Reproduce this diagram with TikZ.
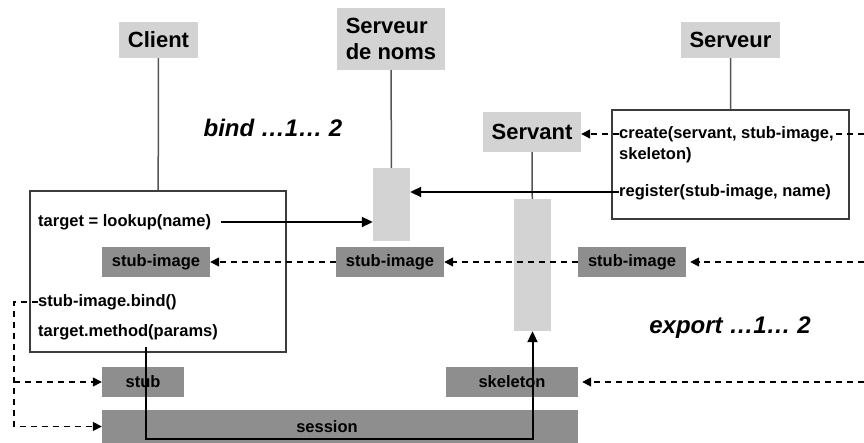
\documentclass[tikz,border=0pt]{standalone}
\usepackage{fontspec}
\setmainfont{Liberation Sans}
\usepackage{tikz}
\usepackage{xcolor}
\usetikzlibrary{arrows.meta, calc, positioning}

\definecolor{hdrgray}{RGB}{211,211,211}
\definecolor{partgray}{RGB}{142,142,142}
\definecolor{framegray}{RGB}{60,60,60}
\definecolor{lifegray}{RGB}{85,85,85}

\begin{document}
\begin{tikzpicture}[x=1pt, y=-1pt,
    every node/.style={font=\fontsize{16.5}{21}\selectfont\bfseries},
    header/.style={fill=hdrgray, inner sep=0pt, font=\fontsize{22}{26}\selectfont\bfseries},
    bar/.style={fill=hdrgray, inner sep=0pt},
    part/.style={fill=partgray, inner sep=0pt, minimum height=30pt},
    frame/.style={draw=framegray, line width=1.4pt, fill=white, inner sep=0pt},
    call/.style={anchor=west, inner sep=0pt},
    tag/.style={font=\fontsize{24}{28}\selectfont\bfseries\itshape},
    life/.style={draw=lifegray, line width=1.5pt},
    msg/.style={line width=2pt, -{Triangle[length=11pt,width=10pt]}},
    async/.style={line width=1.5pt, dash pattern=on 6pt off 5pt, -{Triangle[length=9pt,width=9pt]}}]
                        \useasboundingbox (0,0) rectangle (864,443);

                        % acteurs
                        \node[header, minimum width=79pt, minimum height=36pt] (client) at (158.5,40) {Client};
                        \node[header, minimum width=108pt, minimum height=62pt, align=left] (ns) at (391,39) {Serveur\\de noms};
                        \node[header, minimum width=99pt, minimum height=36pt] (serveur) at (730.5,40) {Serveur};
                        \node[header, minimum width=98pt, minimum height=40pt] (servant) at (532,132) {Servant};

                        \node[frame, minimum width=256pt, minimum height=161pt] (clientbox) at (158,271.5) {};
                        \node[frame, minimum width=237pt, minimum height=109pt] (serverbox) at (730.5,164.5) {};
                        \node[bar, minimum width=37pt, minimum height=73pt] (nsbar) at (391.5,204.5) {};
                        \node[bar, minimum width=37pt, minimum height=132pt] (servbar) at (532.5,265) {};

                        % appels
                        \node[call] (lookup) at (38,222) {target = lookup(name)};
                        \node[call] (bind) at (38,302) {stub-image.bind()};
                        \node[call] (method) at (38,332) {target.method(params)};
                        \node[call] (create1) at (619,134) {create(servant, stub-image,};
                        \node[call] (create2) at (619,155) {skeleton)};
                        \node[call] (register) at (619,192) {register(stub-image, name)};

                        % objets
                        \node[part, minimum width=108pt] (climg) at (156,262) {stub-image};
                        \node[part, minimum width=108pt] (nsimg) at (390,262) {stub-image};
                        \node[part, minimum width=108pt] (srvimg) at (632,262) {stub-image};
                        \node[part, minimum width=82pt] (stub) at (143,382) {stub};
                        \node[part, minimum width=132pt] (skeleton) at (512,382) {skeleton};
                        \node[part, minimum width=476pt, minimum height=33pt] (session) at (340,426.5) {\hspace*{-26pt}session};

                        \node[tag] (bindtag) at (273,128) {bind …1… 2};
                        \node[tag] (exporttag) at (730,328) {export …1… 2};

                        \coordinate (lft) at (14,302);
                        \coordinate (rcreate) at (864,134);
                        \coordinate (rimg) at (864,262);
                        \coordinate (rskel) at (864,382);
                        \coordinate (mstart) at (146,347);
                        \coordinate (turn) at (532.5,439);

                        \draw[life]
                        (client) -- (clientbox)
                        (ns) -- (nsbar)
                        (serveur) -- (serverbox)
                        (servant) -- (servbar);

                        \draw[msg] (lookup.east) ++(10,0) -- (lookup.east -| nsbar.west);
                        \draw[msg] (register.west) -- (register.west -| nsbar.east);
                        \draw[msg] (mstart) |- (turn) -- (servbar.south);

                        \draw[async] (create1.west) -- (create1.west -| servant.east);
                        \draw[async, -] (rcreate) -- (create1.east);
                        \draw[async] (nsimg.west) -- (climg.east);
                        \draw[async] (srvimg.west) -- (nsimg.east);
                        \draw[async, shorten >=4pt] (rimg) -- (srvimg.east);
                        \draw[async, shorten >=4pt] (rskel) -- (skeleton.east);
                        \draw[async] (bind.west) -- (lft) |- (session.west);
                        \draw[async] (lft |- stub.west) -- (stub.west);
                    \end{tikzpicture}
\end{document}
